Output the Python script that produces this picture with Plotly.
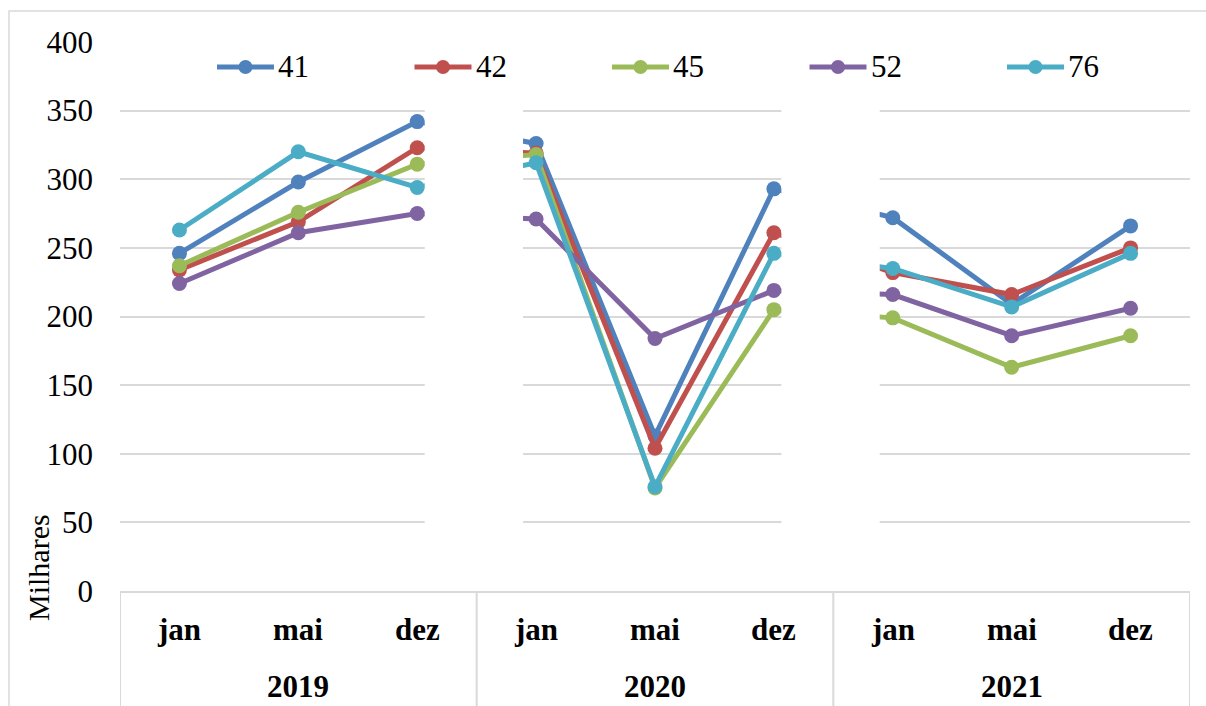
import plotly.graph_objects as go

# ---- data (thousands) ----
years = ["2019", "2020", "2021"]
months = ["jan", "mai", "dez"]
series_names = ["41", "42", "45", "52", "76"]
s41 = [246, 298, 342, 326, 113, 293, 272, 209, 266]
s42 = [234, 269, 323, 319, 104, 261, 232, 216, 250]
s45 = [237, 276, 311, 318, 75, 205, 199, 163, 186]
s52 = [224, 261, 275, 271, 184, 219, 216, 186, 206]
s76 = [263, 320, 294, 312, 76, 246, 235, 207, 246]
y_ticks = [0, 50, 100, 150, 200, 250, 300, 350, 400]

series_values = [s41, s42, s45, s52, s76]
colors = ["#4F81BD", "#C0504D", "#9BBB59", "#8064A2", "#4BACC6"]

categories = [f"{y} {m}" for y in years for m in months]

# ---- geometry (pixels) ----
W, H = 1206, 706
ML, MR, MT, MB = 120, 16, 42, 115
PW, PH = W - ML - MR, H - MT - MB
FONT = "Liberation Serif"
GRID = "#D9D9D9"


def px_x(p):
    return (p - ML) / PW


def px_y(p):
    return (H - MB - p) / PH


fig = go.Figure()
for name, vals, col in zip(series_names, series_values, colors):
    fig.add_trace(go.Scatter(
        x=categories, y=vals, name=name, mode="lines+markers",
        line=dict(color=col, width=5),
        marker=dict(color=col, size=15),
        showlegend=False, cliponaxis=False,
    ))

shapes = []
# white panels separating the year groups
for c in (2.5, 5.5):
    shapes.append(dict(type="rect", xref="x", yref="y", x0=c - 0.437, x1=c + 0.39,
                       y0=3, y1=396, fillcolor="white", line=dict(width=0),
                       layer="above"))

# category box dividers below the axis
for c in (-0.5, 2.5, 5.5, 8.5):
    shapes.append(dict(type="line", xref="x", yref="paper", x0=c, x1=c,
                       y0=0, y1=px_y(H + 10), line=dict(color=GRID, width=2),
                       layer="above"))

# outer chart border
shapes.append(dict(type="rect", xref="paper", yref="paper",
                   x0=px_x(9), x1=px_x(W + 20), y0=px_y(H + 20), y1=px_y(11),
                   line=dict(color=GRID, width=1.5), fillcolor="rgba(0,0,0,0)",
                   layer="above"))

annotations = []
# legend row
leg_y = px_y(67)
for i, (name, col) in enumerate(zip(series_names, colors)):
    x0 = 217 + i * 197.5
    shapes.append(dict(type="line", xref="paper", yref="paper",
                       x0=px_x(x0), x1=px_x(x0 + 57), y0=leg_y, y1=leg_y,
                       line=dict(color=col, width=5), layer="above"))
    shapes.append(dict(type="circle", xref="paper", yref="paper",
                       xsizemode="pixel", ysizemode="pixel",
                       xanchor=px_x(x0 + 28.5), yanchor=leg_y,
                       x0=-7, x1=7, y0=-7, y1=7,
                       fillcolor=col, line=dict(width=0), layer="above"))
    annotations.append(dict(text=name, xref="paper", yref="paper",
                            x=px_x(x0 + 59), y=leg_y, xanchor="left", yanchor="middle",
                            showarrow=False, font=dict(family=FONT, size=31, color="black")))

# month and year labels
for gi, yr in enumerate(years):
    for mi, m in enumerate(months):
        annotations.append(dict(text=f"<b>{m}</b>", xref="x", yref="paper",
                                x=categories[gi * 3 + mi], y=px_y(629),
                                yanchor="middle", showarrow=False,
                                font=dict(family=FONT, size=31, color="black")))
    annotations.append(dict(text=f"<b>{yr}</b>", xref="x", yref="paper",
                            x=categories[gi * 3 + 1], y=px_y(686),
                            yanchor="middle", showarrow=False,
                            font=dict(family=FONT, size=31, color="black")))

# axis title
annotations.append(dict(text="Milhares", xref="paper", yref="paper",
                        x=px_x(38), y=px_y(568), textangle=-90,
                        xanchor="center", yanchor="middle", showarrow=False,
                        font=dict(family=FONT, size=30, color="black")))

fig.update_layout(
    width=W, height=H,
    margin=dict(l=ML, r=MR, t=MT, b=MB),
    paper_bgcolor="white", plot_bgcolor="white",
    shapes=shapes, annotations=annotations,
    xaxis=dict(type="category", categoryorder="array", categoryarray=categories,
               range=[-0.5, 8.5], showticklabels=False, ticks="",
               showgrid=False, showline=True, linecolor=GRID, linewidth=2,
               zeroline=False, fixedrange=True),
    yaxis=dict(range=[0, 400], tickvals=y_ticks, showgrid=True, gridcolor=GRID,
               gridwidth=1.5, zeroline=False, showline=False, ticks="",
               ticklabelstandoff=26,
               tickfont=dict(family=FONT, size=31, color="black"), fixedrange=True),
    showlegend=False,
)

fig.write_html("out.html")
